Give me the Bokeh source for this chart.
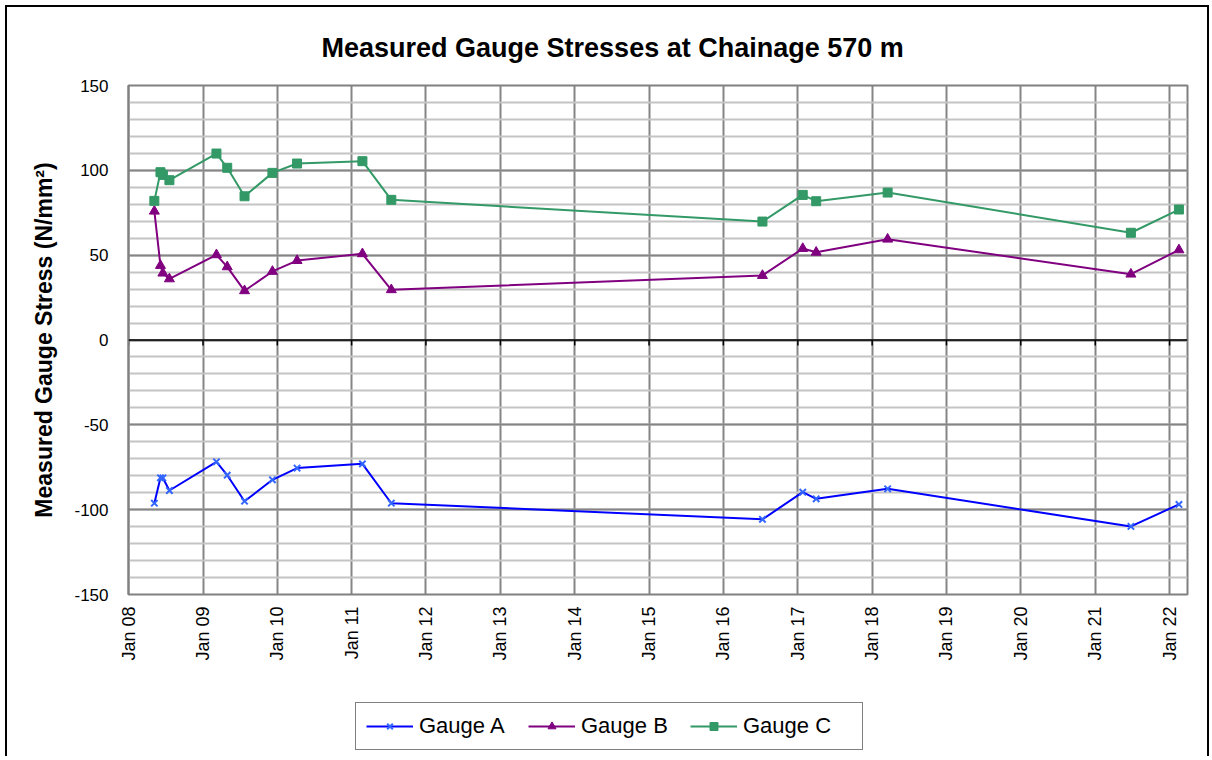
import math
import pandas as pd
from bokeh.plotting import figure
from bokeh.layouts import column
from bokeh.models import (Range1d, FixedTicker, DatetimeTickFormatter, Span, Legend,
                          LegendItem, Title, ColumnDataSource, CustomJSTickFormatter)
from bokeh.embed import file_html
from bokeh.resources import INLINE

# ---------------- data ----------------
dates = ["2008-05-07", "2008-06-06", "2008-06-18", "2008-07-20", "2009-03-08",
         "2009-04-30", "2009-07-24", "2009-12-08", "2010-04-08", "2011-02-23",
         "2011-07-15", "2016-07-11", "2017-01-25", "2017-04-01", "2018-03-18",
         "2021-06-25", "2022-02-16"]
gauge_a = [-96.2, -81.2, -81.3, -88.7, -71.8, -79.7, -95.0, -82.4, -75.5, -73.0,
           -96.2, -105.7, -89.7, -93.6, -87.7, -109.9, -96.9]
gauge_b = [75.9, 43.9, 39.4, 36.0, 50.2, 43.1, 29.0, 40.4, 46.8, 50.8,
           29.6, 38.0, 53.9, 51.7, 59.4, 38.8, 53.1]
gauge_c = [82.0, 98.9, 97.3, 94.2, 109.9, 101.5, 84.7, 98.5, 104.0, 105.4,
           82.6, 69.8, 85.5, 81.8, 86.9, 63.2, 76.9]
tick_years = list(range(2008, 2023))
y_major = [-150, -100, -50, 0, 50, 100, 150]
y_minor = list(range(-150, 151, 10))
x_start, x_end = "2008-01-01", "2022-03-30"

series = [("Gauge A", gauge_a, "#0000FF", "#3366FF", "x", 9),
          ("Gauge B", gauge_b, "#800080", "#800080", "triangle", 10),
          ("Gauge C", gauge_c, "#339966", "#339966", "square", 9)]

FONT = "Liberation Sans"

x_dates = pd.to_datetime(dates)
tick_ms = [pd.Timestamp(f"{y}-01-01").value // 10**6 for y in tick_years]

p = figure(width=1200, height=683, x_axis_type="datetime",
           x_range=Range1d(pd.Timestamp(x_start), pd.Timestamp(x_end)),
           y_range=Range1d(-150, 150),
           output_backend="svg", toolbar_location=None,
           min_border_left=121, min_border_right=20, min_border_top=78,
           min_border_bottom=96)

t = Title(text="Measured Gauge Stresses at Chainage 570 m", align="left",
          text_font=FONT, text_font_size="27px", text_font_style="bold",
          text_color="black", offset=193, standoff=46)
p.add_layout(t, "above")

p.outline_line_color = "#808080"
p.outline_line_width = 2

# axes
p.xaxis.ticker = FixedTicker(ticks=tick_ms)
fmt = "%b %y"
p.xaxis.formatter = DatetimeTickFormatter(years=fmt, months=fmt, days=fmt, hours=fmt,
                                          hourmin=fmt, minutes=fmt, minsec=fmt,
                                          seconds=fmt, milliseconds=fmt,
                                          microseconds=fmt)
p.xaxis.major_label_orientation = math.pi / 2
p.xaxis.axis_line_color = None
p.xaxis.major_tick_line_color = None
p.xaxis.minor_tick_line_color = None
p.xaxis.major_label_standoff = 6
p.xaxis.major_label_text_font = FONT
p.xaxis.major_label_text_font_size = "18px"
p.xaxis.major_label_text_color = "black"

p.yaxis.ticker = FixedTicker(ticks=y_major, minor_ticks=y_minor)
p.yaxis.formatter = CustomJSTickFormatter(code="return tick.toString();")
p.yaxis.axis_line_color = "#808080"
p.yaxis.axis_line_width = 2
p.yaxis.major_tick_line_color = None
p.yaxis.minor_tick_line_color = None
p.yaxis.major_label_standoff = 14
p.yaxis.major_label_text_font = FONT
p.yaxis.major_label_text_font_size = "17px"
p.yaxis.major_label_text_color = "black"
p.yaxis.axis_label = "Measured Gauge Stress (N/mm²)"
p.yaxis.axis_label_text_font = FONT
p.yaxis.axis_label_text_font_size = "23px"
p.yaxis.axis_label_text_font_style = "bold"
p.yaxis.axis_label_text_color = "black"
p.yaxis.axis_label_standoff = 14

# grids
p.xgrid.grid_line_color = "#858585"
p.xgrid.grid_line_width = 2
p.ygrid.grid_line_color = "#858585"
p.ygrid.grid_line_width = 2
p.ygrid.minor_grid_line_color = "#C4C4C4"
p.ygrid.minor_grid_line_width = 2
p.ygrid.level = "underlay"
p.xgrid.level = "underlay"

# zero line with tick marks
p.add_layout(Span(location=0, dimension="width", line_color="black", line_width=1.5))
p.segment(x0=tick_ms, x1=tick_ms, y0=[0] * len(tick_ms), y1=[-3.2] * len(tick_ms),
          line_color="black", line_width=1.5)

# legend strip (separate figure below the chart)
q = figure(width=1200, height=66, output_backend="svg", toolbar_location=None,
           x_range=Range1d(0, 1), y_range=Range1d(0, 1),
           min_border_left=0, min_border_right=0, min_border_top=0, min_border_bottom=0)
q.xaxis.visible = False
q.yaxis.visible = False
q.grid.visible = False
q.outline_line_color = None

items = []
for name, vals, lc, mc, mk, sz in series:
    src = ColumnDataSource(dict(x=x_dates, y=vals))
    p.line("x", "y", source=src, line_color=lc, line_width=2)
    p.scatter("x", "y", source=src, marker=mk, size=sz, fill_color=mc,
              line_color=mc, line_width=2 if mk == "x" else 1)
    # legend proxies in the legend strip (same data, outside its view)
    l1 = q.line("x", "y", source=src, line_color=lc, line_width=2)
    l2 = q.scatter("x", "y", source=src, marker=mk, size=sz, fill_color=mc,
                   line_color=mc, line_width=2 if mk == "x" else 1)
    items.append(LegendItem(label=name, renderers=[l1, l2]))

legend = Legend(items=items, orientation="horizontal", location=(227, 6),
                label_text_font=FONT, label_text_font_size="22px",
                label_text_color="black", glyph_width=47, glyph_height=20,
                label_standoff=6, label_width=109, spacing=0, padding=10,
                border_line_color="black", border_line_width=1.5,
                background_fill_alpha=1)
q.add_layout(legend, "center")

layout = column(p, q, spacing=0,
                styles={"margin-left": "5px", "margin-top": "5px",
                        "border-top": "2px solid black",
                        "border-left": "2px solid black",
                        "border-right": "2px solid black"})

open("out.html", "w").write(file_html(layout, INLINE))
